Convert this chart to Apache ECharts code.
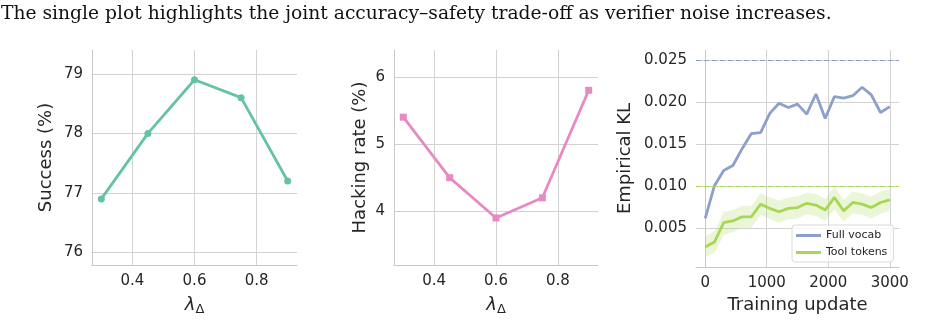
<!DOCTYPE html>
<html><head><meta charset="utf-8">
<script src="https://cdn.jsdelivr.net/npm/echarts@6/dist/echarts.min.js"></script>
<style>html,body{margin:0;padding:0;background:#fff}#c{width:942px;height:321px}</style>
</head><body><div id="c"></div>
<script>
// ---- data ----
const lambdas = [0.3, 0.45, 0.6, 0.75, 0.9];
const success = [76.9, 78.0, 78.9, 78.6, 77.2];
const hacking = [5.4, 4.5, 3.9, 4.2, 5.8];
const steps = [0,150,300,450,600,750,900,1050,1200,1350,1500,1650,1800,1950,2100,2250,2400,2550,2700,2850,3000];
const klFull = [0.0062,0.0101,0.0119,0.0125,0.0145,0.0163,0.0164,0.0187,0.0199,0.0194,0.0198,0.0186,0.0210,0.0181,0.0207,0.0205,0.0208,0.0218,0.0209,0.0188,0.0195];
const klTool = [0.0028,0.0034,0.0057,0.0059,0.0064,0.0064,0.0079,0.0074,0.0070,0.0074,0.0075,0.0080,0.0078,0.0072,0.0087,0.0071,0.0081,0.0079,0.0075,0.0081,0.0084];
const klToolLo = [0.0016,0.0021,0.0042,0.0046,0.0051,0.0051,0.0066,0.0061,0.0057,0.0061,0.0062,0.0067,0.0065,0.0059,0.0073,0.0058,0.0068,0.0066,0.0062,0.0068,0.0071];
const klToolHi = [0.0041,0.0047,0.0070,0.0072,0.0077,0.0077,0.0092,0.0087,0.0083,0.0087,0.0088,0.0093,0.0091,0.0085,0.0100,0.0084,0.0094,0.0092,0.0088,0.0094,0.0097];
const budgetFull = 0.025, budgetTool = 0.010;
const lamTicks = [0.4, 0.6, 0.8];
const succTicks = [76, 77, 78, 79];
const hackTicks = [4, 5, 6];
const stepTicks = [0, 1000, 2000, 3000];
const klTicks = [0.005, 0.010, 0.015, 0.020, 0.025];
const caption = 'The single plot highlights the joint accuracy\u2013safety trade-off as verifier noise increases.';

// ---- chart ----
const TXT = '#262626', GRID = '#d2d2d2', SPINE = '#c8c8c8';
const BLUE = '#8da0cb', LIME = '#a6d854';
const FONT = 'DejaVu Sans';
const zip = (a, b) => a.map((v, i) => [v, b[i]]);
const lamName = '{l|\u03bb}{s|\u0394}';
const lamStyle = { rich: {
  l: { fontFamily: FONT, fontSize: 18, fontStyle: 'italic', color: TXT },
  s: { fontFamily: FONT, fontSize: 13, color: TXT, padding: [8, 0, 0, 0] }
} };
function xAx(gi, min, max, ticks, fmt, name, gap) {
  const ax = {
    type: 'value', gridIndex: gi, min, max,
    axisLine: { show: true, lineStyle: { color: SPINE, width: 1 } },
    axisTick: { show: false, customValues: ticks },
    axisLabel: { customValues: ticks, formatter: fmt, color: TXT, fontFamily: FONT, fontSize: 15, margin: 9 },
    splitLine: { show: true, lineStyle: { color: GRID, width: 1 } },
    nameLocation: 'middle', nameGap: gap,
    nameTextStyle: { fontFamily: FONT, fontSize: 18, color: TXT }
  };
  if (name === 'lam') { ax.name = lamName; ax.nameTextStyle = lamStyle; }
  else ax.name = name;
  return ax;
}
function yAx(gi, min, max, ticks, fmt, name, gap) {
  return {
    type: 'value', gridIndex: gi, min, max,
    axisLine: { show: true, lineStyle: { color: SPINE, width: 1 } },
    axisTick: { show: false, customValues: ticks },
    axisLabel: { customValues: ticks, formatter: fmt, color: TXT, fontFamily: FONT, fontSize: 15, margin: 9 },
    splitLine: { show: true, lineStyle: { color: GRID, width: 1 } },
    name, nameLocation: 'middle', nameGap: gap,
    nameTextStyle: { fontFamily: FONT, fontSize: 18, color: TXT }
  };
}
const chart = echarts.init(document.getElementById('c'), null, { renderer: 'canvas' });
chart.setOption({
  animation: false,
  backgroundColor: '#fff',
  graphic: [{
    type: 'text', left: 1, top: 5,
    style: { text: caption, font: '18.7px "DejaVu Serif", serif', fill: '#111' }
  }],
  grid: [
    { left: 92, top: 50, width: 205, height: 217 },
    { left: 394, top: 50, width: 204, height: 216 },
    { left: 696, top: 50, width: 203, height: 217 }
  ],
  xAxis: [
    xAx(0, 0.27, 0.93, lamTicks, v => v.toFixed(1), 'lam', 30),
    xAx(1, 0.27, 0.93, lamTicks, v => v.toFixed(1), 'lam', 30),
    xAx(2, -150, 3150, stepTicks, v => String(v), 'Training update', 17)
  ],
  yAxis: [
    yAx(0, 75.79, 79.4, succTicks, v => String(v), 'Success (%)', 37),
    yAx(1, 3.2, 6.4, hackTicks, v => String(v), 'Hacking rate (%)', 25),
    yAx(2, 0.00043, 0.02623, klTicks, v => v.toFixed(3), 'Empirical KL', 62)
  ],
  legend: {
    left: 792, top: 225, orient: 'vertical',
    data: [
      { name: 'Full vocab', icon: 'rect' },
      { name: 'Tool tokens', icon: 'rect' }
    ],
    itemWidth: 25, itemHeight: 3, itemGap: 6,
    padding: [5, 6, 4, 4],
    backgroundColor: 'rgba(255,255,255,0.8)',
    borderColor: '#d9d9d9', borderWidth: 1, borderRadius: 3,
    textStyle: { fontFamily: FONT, fontSize: 11, color: TXT }
  },
  series: [
    { type: 'line', xAxisIndex: 0, yAxisIndex: 0, data: zip(lambdas, success),
      color: '#66c2a5', lineStyle: { width: 2.8 }, symbol: 'circle', symbolSize: 7, z: 3 },
    { type: 'line', xAxisIndex: 1, yAxisIndex: 1, data: zip(lambdas, hacking),
      color: '#e78ac3', lineStyle: { width: 2.8 }, symbol: 'rect', symbolSize: 7, z: 3 },
    { type: 'custom', xAxisIndex: 2, yAxisIndex: 2, z: 1, silent: true,
      data: steps.map((s, i) => [s, klToolLo[i], klToolHi[i]]),
      encode: { x: 0, y: [1, 2] },
      renderItem: (params, api) => {
        if (params.dataIndex !== 0) return null;
        const up = steps.map((s, i) => api.coord([s, klToolHi[i]]));
        const dn = steps.map((s, i) => api.coord([s, klToolLo[i]])).reverse();
        return { type: 'polygon', shape: { points: up.concat(dn) },
          style: { fill: 'rgba(166,216,84,0.22)' } };
      } },
    { name: 'Full vocab', type: 'line', xAxisIndex: 2, yAxisIndex: 2, data: zip(steps, klFull),
      color: BLUE, lineStyle: { width: 2.8 }, symbol: 'none', z: 3 },
    { name: 'Tool tokens', type: 'line', xAxisIndex: 2, yAxisIndex: 2, data: zip(steps, klTool),
      color: LIME, lineStyle: { width: 2.8 }, symbol: 'none', z: 3,
      markLine: { silent: true, symbol: 'none', label: { show: false }, precision: 4,
        data: [
          { yAxis: budgetFull, lineStyle: { color: BLUE, width: 1.2, type: [5, 3] } },
          { yAxis: budgetTool, lineStyle: { color: LIME, width: 1.2, type: [5, 3] } }
        ] } }
  ]
});
</script></body></html>
